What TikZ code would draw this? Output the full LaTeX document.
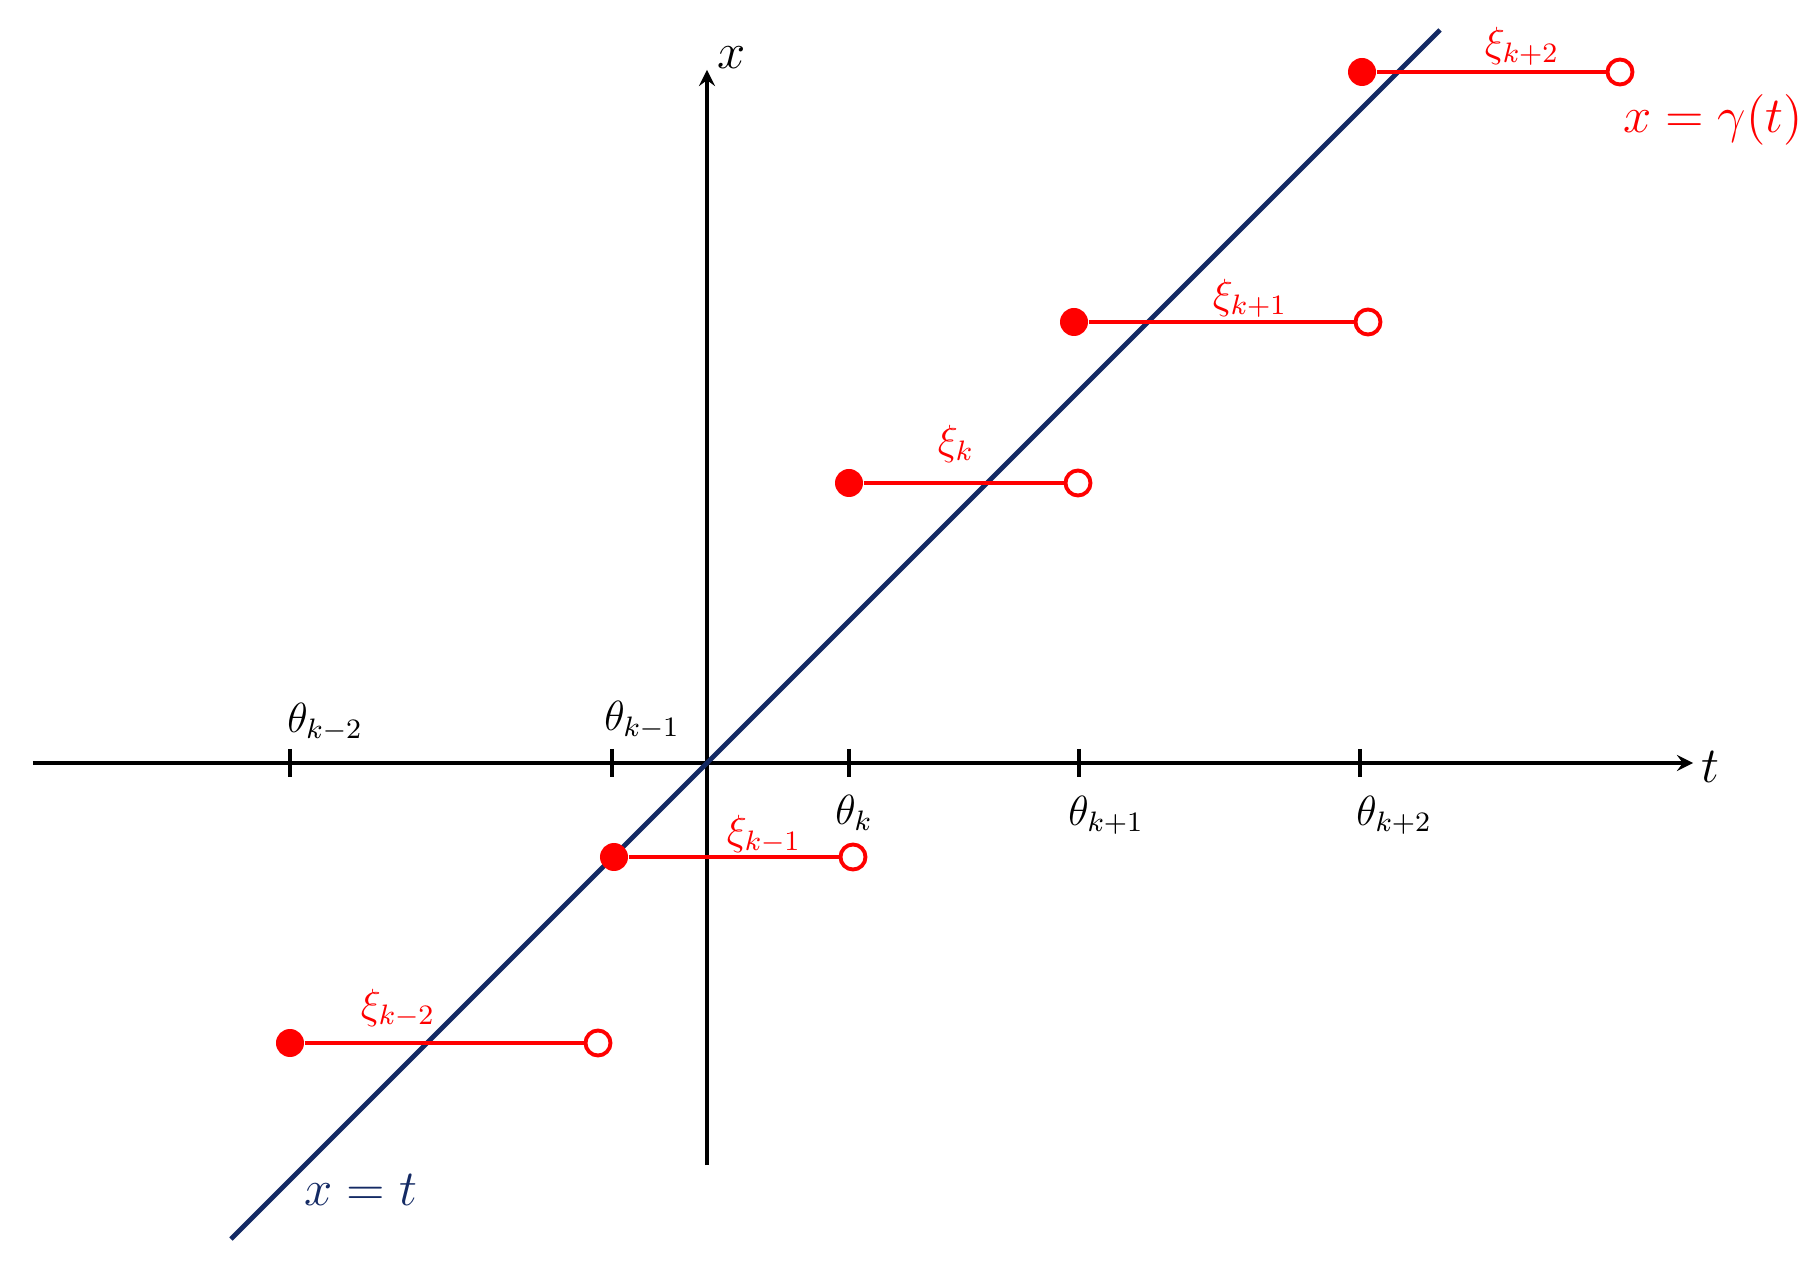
\documentclass[tikz,border=0pt]{standalone}
\usepackage{tikz}
\usetikzlibrary{arrows}
\usetikzlibrary{positioning}
\definecolor{bleunuit}{RGB}{20,42,100}
\tikzstyle{axe} = [->,>=stealth,line width=1pt]
\tikzstyle{graduation} = [line width=1pt]
\tikzstyle{diagonale} = [bleunuit,line width=1.4pt]
\tikzstyle{palier} = [red,line width=1.1pt]
\tikzstyle{plein} = [circle,fill=red,inner sep=0pt,minimum size=2.8mm]
\tikzstyle{vide} = [circle,draw=red,fill=white,line width=1.1pt,inner sep=0pt,minimum size=2.5mm]

\begin{document}
\begin{tikzpicture}[font=\large]
	\useasboundingbox (-7.07,-5.01) rectangle (11.05,7.63);

	% axes
	\coordinate (tg) at (-6.74,0);
	\coordinate (td) at (9.86,0);
	\coordinate (xb) at (0,-4.02);
	\coordinate (xh) at (0,6.93);
	\draw[axe] (tg) -- (td);
	\draw[axe] (xb) -- (xh);
	\node (t) at (10.03,-0.04) {\Large $t$};
	\node (x) at (0.25,7.05) {\Large $x$};

	% graduations
	\foreach \nom/\pos in {a/-4.17, b/-0.95, c/1.42, d/3.72, e/6.53}{
		\coordinate (\nom h) at (\pos,0.14);
		\coordinate (\nom b) at (\pos,-0.14);
		\draw[graduation] (\nom h) -- (\nom b);
	}
	\node (Ta) at (-3.82,0.41) {$\theta_{k-2}$};
	\node (Tb) at (-0.65,0.43) {$\theta_{k-1}$};
	\node (Tc) at (1.47,-0.50) {$\theta_{k}$};
	\node (Td) at (3.99,-0.52) {$\theta_{k+1}$};
	\node (Te) at (6.87,-0.52) {$\theta_{k+2}$};

	% x = t
	\coordinate (D1) at (-4.76,-4.76);
	\coordinate (D2) at (7.33,7.33);
	\draw[diagonale] (D1) -- (D2);
	\node[text=bleunuit] (XT) at (-3.46,-4.27) {\Large $x = t$};

	% paliers
	\node[plein] (Sa) at (-4.17,-2.80) {};
	\node[vide]  (Ea) at (-1.09,-2.80) {};
	\draw[palier] (Sa) -- (Ea);
	\node[text=red] (Xa) at (-3.09,-2.45) {$\xi_{k-2}$};

	\node[plein] (Sb) at (-0.93,-0.94) {};
	\node[vide]  (Eb) at (1.46,-0.94) {};
	\draw[palier] (Sb) -- (Eb);
	\node[text=red] (Xb) at (0.57,-0.71) {$\xi_{k-1}$};

	\node[plein] (Sc) at (1.42,2.80) {};
	\node[vide]  (Ec) at (3.71,2.80) {};
	\draw[palier] (Sc) -- (Ec);
	\node[text=red] (Xc) at (2.49,3.19) {$\xi_{k}$};

	\node[plein] (Sd) at (3.67,4.41) {};
	\node[vide]  (Ed) at (6.61,4.41) {};
	\draw[palier] (Sd) -- (Ed);
	\node[text=red] (Xd) at (5.43,4.65) {$\xi_{k+1}$};

	\node[plein] (Se) at (6.55,6.91) {};
	\node[vide]  (Ee) at (9.13,6.91) {};
	\draw[palier] (Se) -- (Ee);
	\node[text=red] (Xe) at (8.15,7.17) {$\xi_{k+2}$};

	\node[text=red] (G) at (10.06,6.43) {\Large $x = \gamma(t)$};
\end{tikzpicture}
\end{document}
